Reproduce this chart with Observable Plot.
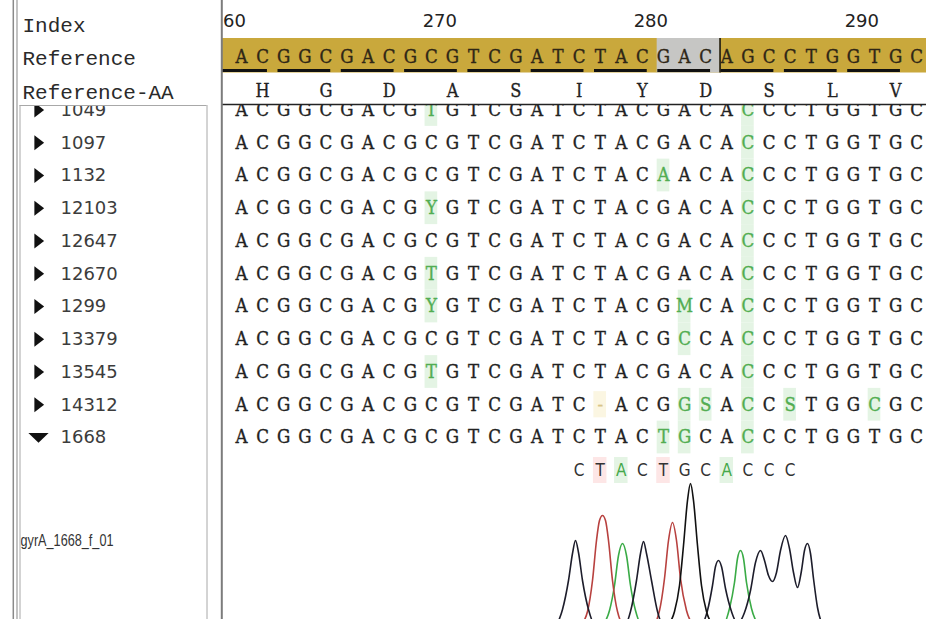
<!DOCTYPE html>
<html><head><meta charset="utf-8">
<script src="https://cdn.jsdelivr.net/npm/d3@7"></script>
<script src="https://cdn.jsdelivr.net/npm/@observablehq/plot@0.6"></script>
<style>
body{margin:0;background:#fff}
#chart svg{display:block}
text[aria-label="bases"], text[aria-label="refbases"], text[aria-label="aa"], text[aria-label="calls"]{font-stretch:condensed}
</style></head><body><div id="chart"></div>
<script>
// ---------------- data ----------------
const startIndex = 260;
const indexTicks = [260, 270, 280, 290];
const headerLabels = ["Index", "Reference", "Reference-AA"];
const reference = "ACGGCGACGCGTCGATCTACGACAGCCTGGTGC";
const aminoAcids = ["H","G","D","A","S","I","Y","D","S","L","V"];
const aminoCols  = [1, 4, 7, 10, 13, 16, 19, 22, 25, 28, 31];
const sampleNames = ["1049","1097","1132","12103","12647","12670","1299","13379","13545","14312","1668"];
const sampleSeqs = [
  "ACGGCGACGTGTCGATCTACGACACCCTGGTGC",
  "ACGGCGACGCGTCGATCTACGACACCCTGGTGC",
  "ACGGCGACGCGTCGATCTACAACACCCTGGTGC",
  "ACGGCGACGYGTCGATCTACGACACCCTGGTGC",
  "ACGGCGACGCGTCGATCTACGACACCCTGGTGC",
  "ACGGCGACGTGTCGATCTACGACACCCTGGTGC",
  "ACGGCGACGYGTCGATCTACGMCACCCTGGTGC",
  "ACGGCGACGCGTCGATCTACGCCACCCTGGTGC",
  "ACGGCGACGTGTCGATCTACGACACCCTGGTGC",
  "ACGGCGACGCGTCGATC-ACGGSACCSTGGCGC",
  "ACGGCGACGCGTCGATCTACTGCACCCTGGTGC"
];
const expandedSample = "1668";
const traceName = "gyrA_1668_f_01";
const baseCalls = "CTACTGCACCC";
const baseCallStartCol = 16;
const selectedCols = [20, 22];
// chromatogram traces: [scan, signal]
const chromC = [[6,0],[12,16],[18,45],[22,72],[25,85],[28,73],[32,45],[38,16],[45,0],[74,0],[80,14],[86,45],[90,72],[93,84],[96,72],[101,45],[107,14],[113,0],[150,0],[157,15],[162,40],[165,59],[168,65],[171,59],[175,37],[181,14],[187,2],[194,13],[200,35],[205,63],[210,75],[214,65],[218,50],[222,44],[226,53],[230,75],[235,90],[239,77],[243,53],[247,38],[251,55],[254,75],[257,82],[260,72],[263,47],[267,18],[272,0]];
const chromG = [[117,0],[124,14],[129,40],[133,80],[137,125],[140,142],[143,125],[147,80],[151,40],[156,14],[163,0]];
const chromT = [[30,0],[37,14],[42,45],[46,85],[49,105],[52,110],[55,105],[58,85],[62,45],[67,14],[74,0],[102,0],[109,15],[114,47],[118,85],[122,103],[126,85],[130,47],[136,15],[143,0]];
const chromA = [[52,0],[59,15],[64,40],[68,70],[72,82],[76,70],[80,40],[85,15],[92,0],[172,0],[179,17],[184,43],[187,67],[190,75],[193,67],[196,43],[201,17],[208,0]];

// ---------------- layout ----------------
const W = 926, H = 619;
const COL0 = 241, COLW = 21.1;     // pixel centre of column 0, column pitch
const ROW0 = 109.5, ROWH = 32.75;  // pixel centre of first sample row, row pitch
const bx = px => startIndex + (px - COL0) / COLW;
const ry = py => (py - ROW0) / ROWH;
const CHROM_X0 = 550, CHROM_BASE = 625;  // chromatogram panel origin
const scanX = s => bx(CHROM_X0 + s);
const sigY = v => ry(CHROM_BASE - v);

const BASE_FONT = "DejaVu Serif";
const GREEN = "#52ad52";

const cells = sampleSeqs.flatMap((s, r) => Array.from(s, (b, c) => ({
  r, c, b, gap: b === "-", mism: b !== "-" && b !== reference[c]
})));
const cellColor = d => d.mism ? GREEN : d.gap ? "#d8c489" : "#222";

const rightTri = {draw(ctx, size) {const r = Math.sqrt(size / Math.PI); ctx.moveTo(-0.55*r, -r); ctx.lineTo(0.75*r, 0); ctx.lineTo(-0.55*r, r); ctx.closePath();}};
const downTri  = {draw(ctx, size) {const r = Math.sqrt(size / Math.PI); ctx.moveTo(-1.35*r, -0.6*r); ctx.lineTo(1.35*r, -0.6*r); ctx.lineTo(0, 0.7*r); ctx.closePath();}};

const K = v => () => v;
const one = [0];

const chart = Plot.plot({
  width: W, height: H, margin: 0,
  x: {domain: [bx(0), bx(W)], range: [0, W], axis: null},
  y: {domain: [ry(0), ry(H)], range: [0, H], axis: null},
  color: {type: "identity"},
  style: {background: "#fff", overflow: "hidden"},
  marks: [
    // sample alignment
    Plot.rect(cells.filter(d => d.mism), {x1: d => startIndex + d.c - 0.3, x2: d => startIndex + d.c + 0.3, y1: d => d.r - 0.5, y2: d => d.r + 0.5, fill: "#e4f4e4"}),
    Plot.rect(cells.filter(d => d.gap), {x1: d => startIndex + d.c - 0.3, x2: d => startIndex + d.c + 0.3, y1: d => d.r - 0.4, y2: d => d.r + 0.4, fill: "#fbf6e2"}),
    Plot.text(cells, {ariaLabel: K("bases"), x: d => startIndex + d.c, y: "r", text: "b",
      fill: cellColor, stroke: cellColor, strokeWidth: 0.35,
      fontFamily: BASE_FONT, fontSize: 18.5}),

    // chromatogram base calls
    Plot.rect(Array.from(baseCalls).map((b, i) => ({b, c: baseCallStartCol + i})).filter(d => d.b === "T" || d.b === "A"),
      {x1: d => startIndex + d.c - 0.32, x2: d => startIndex + d.c + 0.32, y1: K(ry(457)), y2: K(ry(483)),
       fill: d => d.b === "T" ? "#fde6e6" : "#e4f4e4"}),
    Plot.text(Array.from(baseCalls), {ariaLabel: K("calls"), x: (d, i) => startIndex + baseCallStartCol + i, y: K(ry(470)), text: d => d,
      fill: d => d === "A" ? "#45a84a" : "#333", fontFamily: "DejaVu Sans", fontSize: 17}),
    // chromatogram traces
    Plot.line(chromA, {x: d => scanX(d[0]), y: d => sigY(d[1]), stroke: "#3aab46", strokeWidth: 1.6, curve: "monotone-x"}),
    Plot.line(chromT, {x: d => scanX(d[0]), y: d => sigY(d[1]), stroke: "#b8413f", strokeWidth: 1.6, curve: "monotone-x"}),
    Plot.line(chromC, {x: d => scanX(d[0]), y: d => sigY(d[1]), stroke: "#1d1d2b", strokeWidth: 1.6, curve: "monotone-x"}),
    Plot.line(chromG, {x: d => scanX(d[0]), y: d => sigY(d[1]), stroke: "#111", strokeWidth: 1.6, curve: "monotone-x"}),

    // header (right)
    Plot.rect(one, {x1: K(bx(222)), x2: K(bx(W)), y1: K(ry(0)), y2: K(ry(104.5)), fill: "#fff"}),
    Plot.rect(one, {x1: K(bx(222)), x2: K(bx(W)), y1: K(ry(38)), y2: K(ry(72.5)), fill: "#c9a83c"}),
    Plot.rect(one, {x1: K(startIndex + selectedCols[0] - 0.3), x2: K(startIndex + selectedCols[1] + 0.68), y1: K(ry(38)), y2: K(ry(72.5)), fill: "#c6c6c4"}),
    Plot.ruleX(one, {x: K(startIndex + selectedCols[1] + 0.68), y1: K(ry(38)), y2: K(ry(72.5)), stroke: "#111", strokeWidth: 1.5}),
    Plot.ruleY(aminoCols, {y: K(ry(70)), x1: c => startIndex + c - 2 - 0.27, x2: c => startIndex + c + 0.23, stroke: "#111", strokeWidth: 3}),
    Plot.text(Array.from(reference), {ariaLabel: K("refbases"), x: (d, i) => startIndex + i, y: K(ry(57)), text: d => d, fill: "#2e2616", stroke: "#2e2616", strokeWidth: 0.35, fontFamily: BASE_FONT, fontSize: 18.5}),
    Plot.text(aminoAcids, {ariaLabel: K("aa"), x: (d, i) => startIndex + aminoCols[i], y: K(ry(91)), text: d => d, fill: "#222", stroke: "#222", strokeWidth: 0.3, fontFamily: BASE_FONT, fontSize: 18}),
    Plot.text(indexTicks, {x: d => d - 0.6, y: K(ry(21)), text: d => String(d), fill: "#222", fontFamily: "DejaVu Sans", fontSize: 18}),
    Plot.ruleY(one, {y: K(ry(104)), x1: K(bx(222)), x2: K(bx(W)), stroke: "#222", strokeWidth: 1.3}),

    // left panel
    Plot.rect(one, {x1: K(bx(0)), x2: K(bx(221)), y1: K(ry(0)), y2: K(ry(H)), fill: "#fff"}),
    Plot.text(sampleNames, {x: K(bx(60)), y: (d, i) => i, text: d => d, textAnchor: "start", fill: "#3c3c3c", fontFamily: "DejaVu Sans", fontSize: 18}),
    Plot.dot(sampleNames.filter(d => d !== expandedSample), {x: K(bx(38)), y: d => sampleNames.indexOf(d), r: 7.5, symbol: rightTri, fill: "#111", stroke: "none"}),
    Plot.dot(sampleNames.filter(d => d === expandedSample), {x: K(bx(38)), y: d => sampleNames.indexOf(d), r: 7.5, symbol: downTri, fill: "#111", stroke: "none"}),
    Plot.text([traceName], {ariaLabel: K("trace"), x: K(bx(20)), y: K(ry(540)), text: d => d, textAnchor: "start", fill: "#333", fontFamily: "Liberation Sans", fontSize: 16.5}),
    Plot.rect(one, {x1: K(bx(0)), x2: K(bx(221)), y1: K(ry(0)), y2: K(ry(105.5)), fill: "#fff"}),
    Plot.text(headerLabels, {x: K(bx(22)), y: (d, i) => ry([25, 57.5, 91.5][i]), text: d => d, textAnchor: "start", fill: "#2a2a2a", fontFamily: "Liberation Mono", fontSize: 21}),

    // chrome lines
    Plot.ruleY(one, {y: K(ry(105)), x1: K(bx(19.5)), x2: K(bx(206.5)), stroke: "#a8a8a8", strokeWidth: 1}),
    Plot.ruleX(one, {x: K(bx(19.5)), y1: K(ry(105)), y2: K(ry(H)), stroke: "#a8a8a8", strokeWidth: 1}),
    Plot.ruleX(one, {x: K(bx(206.5)), y1: K(ry(105)), y2: K(ry(H)), stroke: "#a8a8a8", strokeWidth: 1}),
    Plot.ruleX(one, {x: K(bx(12.8)), y1: K(ry(0)), y2: K(ry(H)), stroke: "#8a8a8a", strokeWidth: 1.5}),
    Plot.ruleX(one, {x: K(bx(16.5)), y1: K(ry(0)), y2: K(ry(H)), stroke: "#9a9a9a", strokeWidth: 1.2}),
    Plot.ruleX(one, {x: K(bx(221.3)), y1: K(ry(0)), y2: K(ry(H)), stroke: "#7c7c7c", strokeWidth: 2})
  ]
});
// condense the trace file name to the narrow width it has in the viewer
d3.select(chart).selectAll('text[aria-label="trace"]')
  .attr("textLength", 93).attr("lengthAdjust", "spacingAndGlyphs");
document.getElementById("chart").appendChild(chart);
</script></body></html>
